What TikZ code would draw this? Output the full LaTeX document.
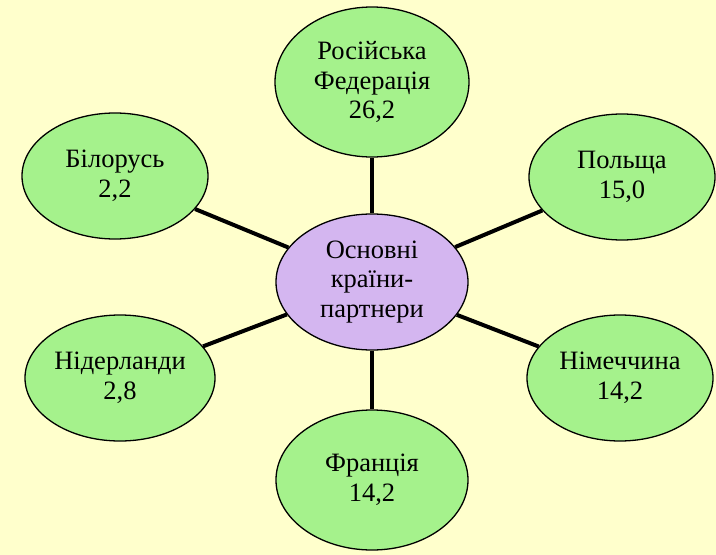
\documentclass[tikz,border=0pt]{standalone}
\usepackage{fontspec}
\newfontfamily\tnr{Liberation Serif}
\usetikzlibrary{shapes.geometric}
\definecolor{bgc}{RGB}{255,255,204}
\definecolor{greenfill}{RGB}{165,242,140}
\definecolor{purplefill}{RGB}{212,182,240}
\tikzset{
  oval/.style={ellipse, draw=black, line width=1.3pt, fill=greenfill, inner sep=0pt,
    align=center, font=\tnr\fontsize{26.5}{29.5}\selectfont, text=black},
  hub/.style={oval, fill=purplefill},
  spoke/.style={line width=4pt, black}
}
\begin{document}
\begin{tikzpicture}[x=1pt,y=-1pt]
\fill[bgc] (0,0) rectangle (716,555);
\useasboundingbox (0,0) rectangle (716,555);
\node[hub, minimum width=192pt, minimum height=136pt] (c) at (372,282) {Основні\\країни-\\партнери};
\node[oval, minimum width=194pt, minimum height=150pt] (ru) at (372,82) {Російська\\Федерація\\26,2};
\node[oval, minimum width=186pt, minimum height=126pt] (by) at (115,176) {Білорусь\\2,2};
\node[oval, minimum width=186pt, minimum height=126pt] (pl) at (622,177) {Польща\\15,0};
\node[oval, minimum width=190pt, minimum height=126pt] (nl) at (120,378) {Нідерланди\\2,8};
\node[oval, minimum width=186pt, minimum height=126pt] (de) at (620,378) {Німеччина\\14,2};
\node[oval, minimum width=192pt, minimum height=140pt] (fr) at (372,480) {Франція\\14,2};
\draw[spoke] (c) -- (ru);
\draw[spoke] (c) -- (by);
\draw[spoke] (c) -- (pl);
\draw[spoke] (c) -- (nl);
\draw[spoke] (c) -- (de);
\draw[spoke] (c) -- (fr);
\end{tikzpicture}
\end{document}
